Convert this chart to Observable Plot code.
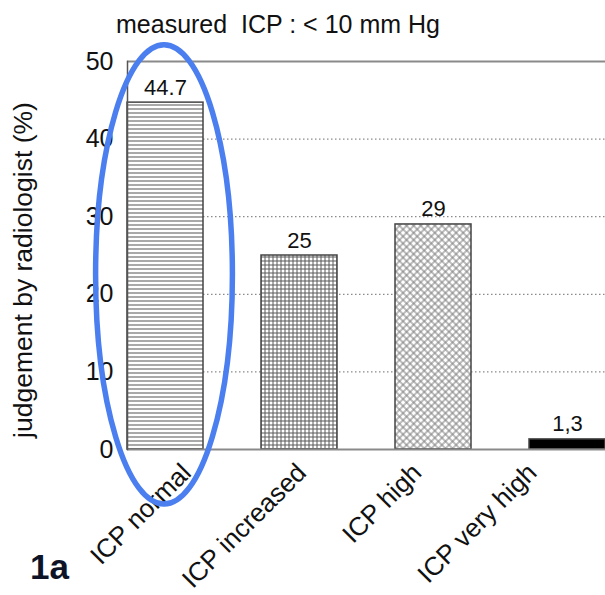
<!DOCTYPE html>
<html><head><meta charset="utf-8">
<script src="https://cdn.jsdelivr.net/npm/d3@7"></script>
<script src="https://cdn.jsdelivr.net/npm/@observablehq/plot@0.6"></script>
<style>
html,body{margin:0;padding:0;background:#fff;overflow:hidden;}
#wrap{position:relative;width:605px;height:595px;font-family:"Liberation Sans",Arial,sans-serif;color:#111;}
#title{position:absolute;top:10px;left:0;width:556px;text-align:center;font-size:25px;line-height:29px;white-space:pre;}
#chart{position:absolute;top:44px;left:0;}
#chart svg{overflow:visible;}
#ylab{position:absolute;left:-177px;top:255px;width:400px;height:30px;line-height:30px;text-align:center;font-size:26.5px;transform:rotate(-90deg);transform-origin:50% 50%;white-space:nowrap;}
#fig{position:absolute;left:30px;top:549px;font-size:35px;line-height:35px;font-weight:bold;color:#0e1428;}
</style></head><body>
<svg width="0" height="0" style="position:absolute">
  <defs>
    <pattern id="p-lines" width="8" height="4" patternUnits="userSpaceOnUse">
      <rect width="8" height="4" fill="#fff"/>
      <line x1="0" y1="1" x2="8" y2="1" stroke="#8c8c8c" stroke-width="1.5"/>
    </pattern>
    <pattern id="p-grid" width="4" height="4" patternUnits="userSpaceOnUse">
      <rect width="4" height="4" fill="#fff"/>
      <line x1="0" y1="1" x2="4" y2="1" stroke="#5a5a5a" stroke-width="1"/>
      <line x1="1" y1="0" x2="1" y2="4" stroke="#5a5a5a" stroke-width="1"/>
    </pattern>
    <pattern id="p-cross" width="5" height="5" patternUnits="userSpaceOnUse" patternTransform="rotate(45)">
      <rect width="5" height="5" fill="#fff"/>
      <line x1="0" y1="1" x2="5" y2="1" stroke="#7a7a7a" stroke-width="1"/>
      <line x1="1" y1="0" x2="1" y2="5" stroke="#7a7a7a" stroke-width="1"/>
    </pattern>
  </defs>
</svg>
<div id="wrap">
  <div id="title">measured  ICP : &lt; 10 mm Hg</div>
  <div id="chart"></div>
  <div id="ylab">judgement by radiologist (%)</div>
  <div id="fig">1a</div>
</div>
<script>
// ---- data ----
const categories = ["ICP normal", "ICP increased", "ICP high", "ICP very high"];
const values = [44.7, 25, 29, 1.3];
const valueLabels = ["44.7", "25", "29", "1,3"];
const yTicks = [0, 10, 20, 30, 40, 50];
const gridTicks = [10, 20, 30, 40];

// ---- styles ----
const fills = ["url(#p-lines)", "url(#p-grid)", "url(#p-cross)", "#000"];

const data = categories.map((c, i) => ({category: c, value: values[i], label: valueLabels[i]}));

const plot = Plot.plot({
  width: 605,
  height: 551,
  marginTop: 17,
  marginBottom: 146,
  marginLeft: 127,
  marginRight: 0,
  style: {fontFamily: "'Liberation Sans', Arial, sans-serif", background: "transparent", color: "#111"},
  x: {domain: categories, paddingInner: 0.435, paddingOuter: 0, axis: null},
  y: {domain: [0, 50], axis: null},
  color: {domain: categories, range: fills},
  marks: [
    Plot.ruleY(gridTicks, {stroke: "#8a8a8a", strokeDasharray: "1.5,2.5", strokeWidth: 1.2}),
    Plot.barY(data, {x: "category", y: "value", fill: "category", stroke: "#444", strokeWidth: 1.5}),
    Plot.ruleY([0], {stroke: "#8a8a8a", strokeWidth: 2}),
    Plot.ruleY([50], {stroke: "#8a8a8a", strokeWidth: 2}),
    Plot.frame({anchor: "left", stroke: "#555", strokeWidth: 1.5}),
    Plot.axisY({ticks: yTicks, tickSize: 0, tickPadding: 14, fontSize: 25, label: null}),
    Plot.axisX({tickSize: 0, tickPadding: 19, tickRotate: -45, fontSize: 26, label: null}),
    Plot.text(data, {x: "category", y: "value", text: "label", dy: -8, lineAnchor: "bottom", fontSize: 22})
  ]
});
document.getElementById("chart").appendChild(plot);

const xs = plot.scale("x");
const ys = plot.scale("y");
const svg = d3.select(plot);

// compress the rotated category labels toward the left, as in the original layout
const k = 0.86, off = 39;
svg.selectAll('g[aria-label="x-axis tick label"] text').each(function () {
  const t = this.getAttribute("transform");
  if (!t) return;
  const m = t.match(/translate\(([-\d.e]+),\s*([-\d.e]+)\)/);
  if (!m) return;
  const nx = off + k * (+m[1]);
  this.setAttribute("transform", t.replace(m[0], `translate(${nx},${m[2]})`));
});

// blue highlight ellipse around the first bar
const cx = xs.apply(categories[0]) + xs.bandwidth / 2 - 1;
const yTop = ys.apply(52.1), yBot = ys.apply(-7.1);
svg.append("ellipse")
  .attr("cx", cx)
  .attr("cy", (yTop + yBot) / 2)
  .attr("rx", xs.bandwidth * 0.9)
  .attr("ry", (yBot - yTop) / 2)
  .attr("fill", "none")
  .attr("stroke", "#4b7ff0")
  .attr("stroke-width", 5.5);
</script>
</body></html>
